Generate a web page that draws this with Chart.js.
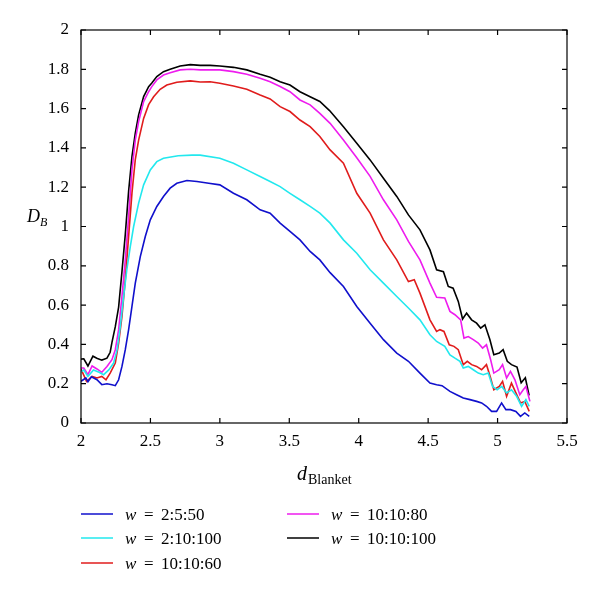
<!DOCTYPE html>
<html>
<head>
<meta charset="utf-8">
<script src="https://cdn.jsdelivr.net/npm/chart.js@4"></script>
<style>
  html, body { margin: 0; padding: 0; background: #fff; }
  canvas { display: block; }
</style>
</head>
<body>
<canvas id="chart" width="600" height="591"></canvas>
<script>
// values (D_B against d_Blanket)
const xTicks = [2, 2.5, 3, 3.5, 4, 4.5, 5, 5.5];
const yTicks = [0, 0.2, 0.4, 0.6, 0.8, 1, 1.2, 1.4, 1.6, 1.8, 2];

const seriesLabels = ["2:5:50", "2:10:100", "10:10:60", "10:10:80", "10:10:100"];
const seriesColors = ["#1010cc", "#22e8ee", "#e01c1c", "#ee1cee", "#000000"];

const xBlue = [2.0, 2.035, 2.05, 2.075, 2.115, 2.15, 2.187, 2.223, 2.247, 2.271, 2.295, 2.319, 2.343, 2.367, 2.391, 2.427, 2.463, 2.499, 2.546, 2.594, 2.642, 2.69, 2.763, 2.835, 2.92, 3.0, 3.098, 3.194, 3.29, 3.362, 3.434, 3.505, 3.577, 3.65, 3.72, 3.794, 3.89, 3.986, 4.082, 4.178, 4.274, 4.358, 4.441, 4.513, 4.561, 4.6, 4.657, 4.705, 4.753, 4.801, 4.849, 4.885, 4.92, 4.957, 4.993, 5.029, 5.06, 5.093, 5.132, 5.165, 5.196, 5.228];
const yBlue = [0.212, 0.229, 0.21, 0.235, 0.22, 0.195, 0.2, 0.195, 0.19, 0.22, 0.288, 0.373, 0.475, 0.593, 0.712, 0.847, 0.949, 1.034, 1.102, 1.153, 1.195, 1.22, 1.234, 1.229, 1.22, 1.212, 1.169, 1.136, 1.085, 1.068, 1.017, 0.975, 0.932, 0.873, 0.83, 0.765, 0.695, 0.593, 0.508, 0.424, 0.356, 0.314, 0.254, 0.203, 0.195, 0.19, 0.161, 0.144, 0.127, 0.119, 0.11, 0.102, 0.085, 0.059, 0.059, 0.102, 0.068, 0.068, 0.059, 0.034, 0.051, 0.034];

const xCyan = [2.0, 2.02, 2.05, 2.09, 2.13, 2.163, 2.2, 2.235, 2.26, 2.283, 2.307, 2.33, 2.355, 2.379, 2.415, 2.451, 2.499, 2.546, 2.594, 2.7, 2.8, 2.858, 3.0, 3.098, 3.194, 3.29, 3.362, 3.434, 3.505, 3.577, 3.65, 3.72, 3.794, 3.89, 3.986, 4.082, 4.178, 4.274, 4.358, 4.441, 4.513, 4.561, 4.62, 4.657, 4.693, 4.729, 4.753, 4.789, 4.825, 4.861, 4.897, 4.933, 4.964, 4.997, 5.03, 5.065, 5.1, 5.137, 5.173, 5.204, 5.228];
const yCyan = [0.26, 0.27, 0.237, 0.27, 0.258, 0.246, 0.27, 0.305, 0.373, 0.49, 0.644, 0.78, 0.898, 1.0, 1.119, 1.212, 1.288, 1.33, 1.347, 1.36, 1.363, 1.363, 1.347, 1.322, 1.288, 1.254, 1.229, 1.203, 1.169, 1.136, 1.102, 1.068, 1.017, 0.932, 0.864, 0.78, 0.712, 0.644, 0.585, 0.525, 0.449, 0.415, 0.39, 0.347, 0.33, 0.314, 0.28, 0.288, 0.271, 0.254, 0.246, 0.254, 0.186, 0.169, 0.186, 0.153, 0.169, 0.136, 0.085, 0.119, 0.085];

const xRed = [2.0, 2.04, 2.08, 2.115, 2.15, 2.18, 2.21, 2.247, 2.271, 2.295, 2.319, 2.343, 2.367, 2.391, 2.415, 2.451, 2.487, 2.523, 2.57, 2.618, 2.69, 2.787, 2.859, 2.93, 3.0, 3.098, 3.194, 3.29, 3.362, 3.434, 3.505, 3.577, 3.65, 3.72, 3.794, 3.89, 3.986, 4.082, 4.178, 4.274, 4.358, 4.4, 4.441, 4.513, 4.561, 4.585, 4.614, 4.652, 4.686, 4.717, 4.753, 4.782, 4.813, 4.849, 4.885, 4.92, 4.95, 4.973, 5.012, 5.036, 5.065, 5.1, 5.132, 5.165, 5.196, 5.228];
const yRed = [0.275, 0.212, 0.237, 0.229, 0.237, 0.22, 0.254, 0.305, 0.407, 0.542, 0.729, 0.95, 1.17, 1.34, 1.44, 1.55, 1.62, 1.66, 1.698, 1.72, 1.734, 1.741, 1.735, 1.737, 1.729, 1.715, 1.698, 1.669, 1.649, 1.61, 1.585, 1.542, 1.508, 1.458, 1.39, 1.322, 1.169, 1.068, 0.932, 0.83, 0.72, 0.729, 0.661, 0.525, 0.466, 0.475, 0.466, 0.398, 0.39, 0.373, 0.297, 0.314, 0.297, 0.288, 0.271, 0.297, 0.229, 0.169, 0.186, 0.212, 0.136, 0.203, 0.153, 0.102, 0.11, 0.059];

const xMagenta = [2.0, 2.02, 2.05, 2.08, 2.115, 2.15, 2.187, 2.223, 2.247, 2.271, 2.295, 2.319, 2.343, 2.367, 2.391, 2.415, 2.451, 2.487, 2.51, 2.546, 2.594, 2.642, 2.714, 2.787, 2.859, 2.93, 3.0, 3.098, 3.194, 3.29, 3.362, 3.434, 3.505, 3.577, 3.65, 3.72, 3.794, 3.89, 3.986, 4.082, 4.178, 4.274, 4.358, 4.441, 4.513, 4.561, 4.62, 4.657, 4.693, 4.734, 4.758, 4.789, 4.825, 4.861, 4.892, 4.92, 4.95, 4.973, 5.012, 5.036, 5.065, 5.093, 5.125, 5.16, 5.185, 5.204, 5.233];
const yMagenta = [0.28, 0.28, 0.246, 0.29, 0.275, 0.258, 0.288, 0.322, 0.373, 0.475, 0.644, 0.83, 1.05, 1.288, 1.44, 1.534, 1.636, 1.686, 1.712, 1.746, 1.771, 1.783, 1.797, 1.8, 1.797, 1.797, 1.797, 1.788, 1.775, 1.754, 1.737, 1.712, 1.686, 1.644, 1.619, 1.576, 1.525, 1.44, 1.35, 1.255, 1.136, 1.034, 0.924, 0.83, 0.712, 0.64, 0.636, 0.568, 0.551, 0.525, 0.432, 0.44, 0.424, 0.407, 0.381, 0.398, 0.322, 0.254, 0.271, 0.297, 0.229, 0.263, 0.22, 0.144, 0.169, 0.186, 0.11];

const xBlack = [2.0, 2.02, 2.05, 2.086, 2.114, 2.15, 2.187, 2.21, 2.223, 2.247, 2.271, 2.295, 2.319, 2.343, 2.367, 2.391, 2.415, 2.451, 2.487, 2.51, 2.546, 2.594, 2.642, 2.714, 2.787, 2.859, 2.93, 3.0, 3.098, 3.194, 3.29, 3.362, 3.434, 3.505, 3.577, 3.65, 3.72, 3.79, 3.89, 3.986, 4.082, 4.178, 4.274, 4.358, 4.441, 4.513, 4.561, 4.61, 4.645, 4.68, 4.717, 4.748, 4.777, 4.813, 4.849, 4.878, 4.909, 4.945, 4.973, 5.012, 5.04, 5.07, 5.1, 5.14, 5.17, 5.2, 5.227];
const yBlack = [0.325, 0.327, 0.29, 0.34, 0.33, 0.32, 0.33, 0.36, 0.41, 0.49, 0.59, 0.77, 0.96, 1.18, 1.356, 1.475, 1.568, 1.661, 1.712, 1.73, 1.763, 1.788, 1.8, 1.817, 1.824, 1.82, 1.82, 1.817, 1.81, 1.797, 1.775, 1.76, 1.737, 1.72, 1.686, 1.66, 1.636, 1.59, 1.508, 1.424, 1.339, 1.246, 1.153, 1.059, 0.983, 0.881, 0.78, 0.77, 0.695, 0.686, 0.619, 0.529, 0.559, 0.525, 0.508, 0.483, 0.5, 0.424, 0.347, 0.356, 0.373, 0.314, 0.297, 0.285, 0.205, 0.23, 0.14];

const seriesX = [xBlue, xCyan, xRed, xMagenta, xBlack];
const seriesY = [yBlue, yCyan, yRed, yMagenta, yBlack];

const SERIF = "'Liberation Serif', 'DejaVu Serif', serif";

// frame, inward ticks, axis titles and the two-column legend
const decorPlugin = {
  id: "decor",
  afterDraw(chart) {
    const c = chart.ctx;
    const a = chart.chartArea;
    const xs = chart.scales.x, ys = chart.scales.y;
    c.save();
    c.strokeStyle = "#000";
    c.lineWidth = 1.2;
    c.strokeRect(a.left, a.top, a.right - a.left, a.bottom - a.top);
    c.beginPath();
    xTicks.forEach((v) => {
      const px = xs.getPixelForValue(v);
      c.moveTo(px, a.bottom); c.lineTo(px, a.bottom - 5);
      c.moveTo(px, a.top); c.lineTo(px, a.top + 5);
    });
    yTicks.forEach((v) => {
      const py = ys.getPixelForValue(v);
      c.moveTo(a.left, py); c.lineTo(a.left + 5, py);
      c.moveTo(a.right, py); c.lineTo(a.right - 5, py);
    });
    c.stroke();

    c.fillStyle = "#000";
    c.textBaseline = "alphabetic";
    c.textAlign = "left";
    // y title D_B
    c.font = "italic 18px " + SERIF;
    c.fillText("D", 27, 222);
    c.font = "italic 12px " + SERIF;
    c.fillText("B", 40, 226);
    // x title d_Blanket
    c.font = "italic 20px " + SERIF;
    c.fillText("d", 297, 480);
    c.font = "14px " + SERIF;
    c.fillText("Blanket", 308, 484);

    // legend, column-major like the original
    const slots = [
      [81, 514], [81, 538], [81, 563], [287, 514], [287, 538],
    ];
    chart.data.datasets.forEach((ds, i) => {
      const [lx, ly] = slots[i];
      c.strokeStyle = ds.borderColor;
      c.lineWidth = 1.5;
      c.beginPath();
      c.moveTo(lx, ly); c.lineTo(lx + 32, ly);
      c.stroke();
      c.fillStyle = "#000";
      c.font = "italic 17px " + SERIF;
      c.fillText("w", lx + 44, ly + 6);
      c.font = "17px " + SERIF;
      c.fillText("=", lx + 63, ly + 6);
      c.fillText(seriesLabels[i], lx + 80, ly + 6);
    });
    c.restore();
  },
};

new Chart(document.getElementById("chart"), {
  type: "scatter",
  data: {
    datasets: seriesLabels.map((lab, i) => ({
      label: "w = " + lab,
      data: seriesX[i].map((x, j) => ({ x: x, y: seriesY[i][j] })),
      showLine: true,
      borderColor: seriesColors[i],
      backgroundColor: seriesColors[i],
      borderWidth: 1.6,
      pointRadius: 0,
      tension: 0,
    })),
  },
  options: {
    responsive: false,
    animation: false,
    layout: { padding: { left: 0, top: 30, right: 33, bottom: 0 } },
    plugins: { legend: { display: false }, tooltip: { enabled: false } },
    scales: {
      x: {
        type: "linear",
        min: 2,
        max: 5.5,
        afterBuildTicks: (s) => { s.ticks = xTicks.map((v) => ({ value: v })); },
        afterFit: (s) => { s.height = 168; },
        ticks: { color: "#000", padding: 8, font: { family: SERIF, size: 17 }, callback: (v) => String(v) },
        grid: { display: false, drawTicks: false },
        border: { display: false },
      },
      y: {
        min: 0,
        max: 2,
        afterBuildTicks: (s) => { s.ticks = yTicks.map((v) => ({ value: v })); },
        afterFit: (s) => { s.width = 81; },
        ticks: { color: "#000", padding: 12, font: { family: SERIF, size: 17 }, callback: (v) => String(v) },
        grid: { display: false, drawTicks: false },
        border: { display: false },
      },
    },
  },
  plugins: [decorPlugin],
});
</script>
</body>
</html>
